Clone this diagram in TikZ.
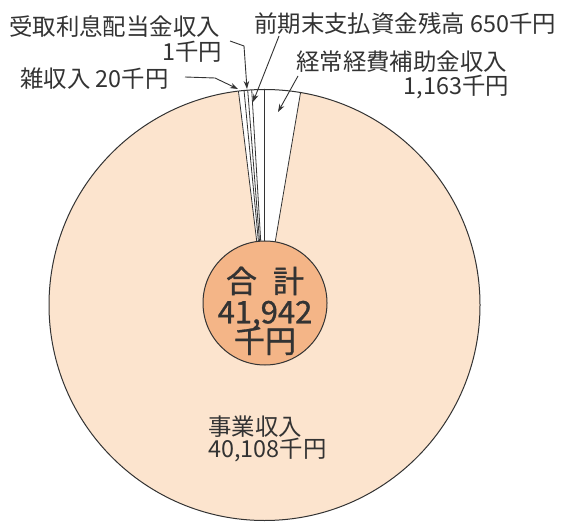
\documentclass[tikz,border=0pt]{standalone}
\usepackage{fontspec}
\setmainfont{Noto Sans CJK JP}
\newfontfamily\midfont[FakeBold=1]{Noto Sans CJK JP}
\usetikzlibrary{arrows.meta,calc}
\definecolor{peach}{HTML}{FCE4CE}
\definecolor{core}{HTML}{F4B587}
\definecolor{ink}{HTML}{333333}
\tikzset{
  lbl/.style={inner sep=0pt, text=ink, font=\fontsize{23.4}{23.4}\selectfont},
  biglbl/.style={inner sep=0pt, text=ink, font=\fontsize{31}{31}\selectfont\midfont},
  ptr/.style={draw=ink, line width=0.9pt, -{Stealth[length=8pt,width=5.5pt]}},
  rim/.style={draw=ink, line width=1pt},
  cut/.style={draw=ink, line width=0.8pt}
}
\begin{document}
\begin{tikzpicture}[x=1pt,y=1pt]
\useasboundingbox (0,0) rectangle (561,522);
\fill[white] (0,0) rectangle (561,522);
\coordinate (C) at (264.5,217);
\def\R{215.5}
% main pie
\fill[peach] (C) circle[radius=\R];
\fill[white] (C) -- ($(C)+(80.37:\R)$) arc[start angle=80.37, end angle=96.95, radius=\R] -- cycle;
\foreach \a in {80.37,90,93.4,94.47,95.45,96.95}{
  \draw[cut] (C) -- ++(\a:\R);
}
\draw[rim] (C) circle[radius=\R];
% centre disc
\node[circle, fill=core, draw=ink, line width=1pt, minimum size=124pt, inner sep=0pt] (tot) at (265,219) {};
\node[biglbl] (t1) at (265,241) {合\hspace{16pt}計};
\node[biglbl] (t2) at (265,207) {41,942};
\node[biglbl] (t3) at (265,181) {千円};
% labels
\node[lbl, anchor=west] (uk) at (9,495) {受取利息配当金収入};
\node[lbl, anchor=east] (ukv) at (222,470) {1千円};
\node[lbl, anchor=west] (zs) at (20,443) {雑収入 20千円};
\node[lbl, anchor=west] (zk) at (254,498) {前期末支払資金残高 650千円};
\node[lbl, anchor=west] (kj) at (296,460) {経常経費補助金収入};
\node[lbl, anchor=east] (kjv) at (509,435) {1,163千円};
\node[lbl, anchor=west] (jg) at (208,95) {事業収入};
\node[lbl, anchor=west] (jgv) at (208,72) {40,108千円};
% pointer ends
\coordinate (zsA) at (185,445);
\coordinate (zsB) at (215,444);
\coordinate (zsT) at (238,433);
\coordinate (ukA) at (230,481);
\coordinate (ukB) at (244,476);
\coordinate (ukT) at (247,433);
\coordinate (zkA) at (279,486);
\coordinate (zkT) at (253,420);
\coordinate (kjA) at (298,446);
\coordinate (kjT) at (278,410);
\draw[ptr] (zsA) -- (zsB) -- (zsT);
\draw[ptr] (ukA) -- (ukB) -- (ukT);
\draw[ptr] (zkA) -- (zkT);
\draw[ptr] (kjA) -- (kjT);
\end{tikzpicture}
\end{document}
